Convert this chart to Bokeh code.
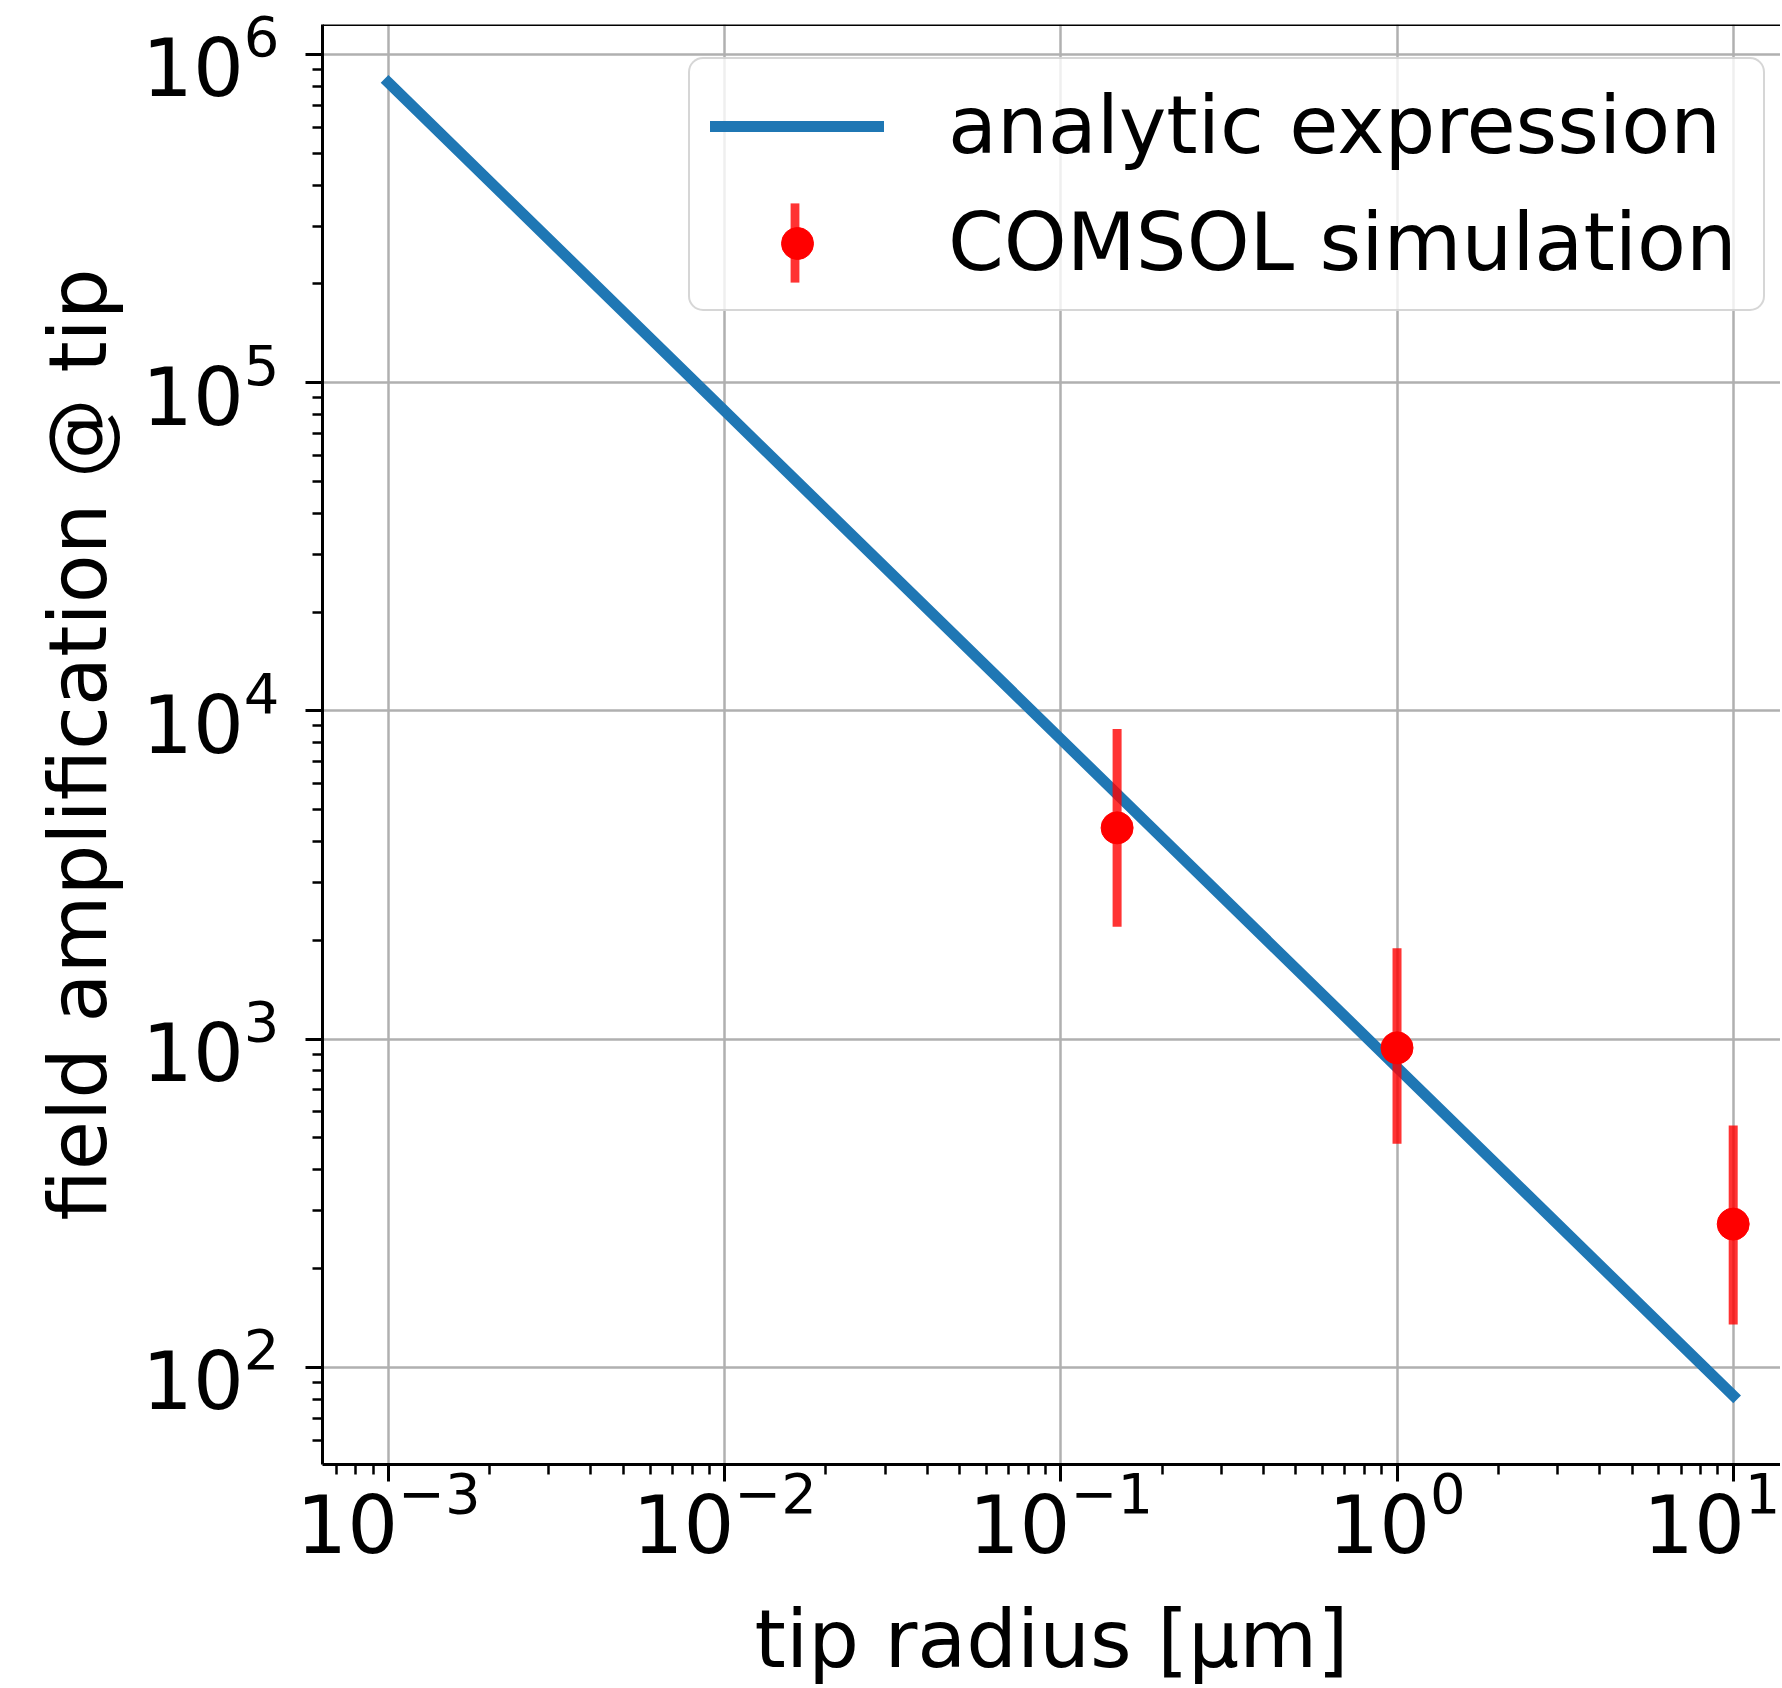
from bokeh.plotting import figure
from bokeh.models import Range1d, ColumnDataSource, Legend, LegendItem, Span
from bokeh.embed import file_html
from bokeh.resources import INLINE

# ---- data ----
analytic_radius = [1e-3, 1e-2, 1e-1, 1e0, 1e1]
analytic_amp = [8.2e5, 8.2e4, 8.2e3, 8.2e2, 82.0]

sim_radius = [0.147, 1.0, 10.0]
sim_amp = [4400.0, 940.0, 273.0]
sim_err_low = [2200.0, 480.0, 135.0]
sim_err_high = [8800.0, 1890.0, 545.0]

x_label = "tip radius [μm]"
y_label = "field amplification @ tip"
legend_labels = ["analytic expression", "COMSOL simulation"]

FONT = "DejaVu Sans"
FS = "80px"

p = figure(
    width=1780, height=1688,
    x_axis_type="log", y_axis_type="log",
    x_range=Range1d(10 ** -3.1963, 10 ** 1.1407),
    y_range=Range1d(10 ** 1.7036, 10 ** 6.0913),
    output_backend="svg", toolbar_location=None,
    min_border_left=322, min_border_right=0, min_border_top=24, min_border_bottom=222,
)
p.outline_line_color = None
p.background_fill_color = "white"
p.border_fill_color = "white"

line_r = p.line(analytic_radius, analytic_amp, line_color="#1f77b4", line_width=11,
                line_cap="square")

src = ColumnDataSource(dict(x=sim_radius, y=sim_amp, lo=sim_err_low, hi=sim_err_high))
# error bars
p.segment(x0="x", y0="lo", x1="x", y1="hi", source=src,
          line_color="red", line_alpha=0.8, line_width=9)
# legend-only sample of the error bar (vertical bar glyph, not drawn in the plot)
bar_proxy = p.vbar(x="x", bottom="lo", top="hi", width=0.01, source=src,
                   fill_color="red", fill_alpha=0.8, line_color=None, visible=False)
pts = p.scatter("x", "y", source=src, size=32, fill_color="red", line_color="red")

# top spine
p.add_layout(Span(location=p.y_range.end, dimension="width", line_color="black", line_width=3))

for ax in p.axis:
    ax.axis_line_color = "black"
    ax.axis_line_width = 3
    ax.major_tick_line_color = "black"
    ax.major_tick_line_width = 3
    ax.major_tick_in = 0
    ax.major_tick_out = 17
    ax.minor_tick_line_color = "black"
    ax.minor_tick_line_width = 2.5
    ax.minor_tick_in = 0
    ax.minor_tick_out = 10
    ax.major_label_text_font = FONT
    ax.major_label_text_font_size = FS
    ax.major_label_text_color = "black"
    ax.axis_label_text_font = FONT
    ax.axis_label_text_font_size = FS
    ax.axis_label_text_font_style = "normal"
    ax.axis_label_text_color = "black"

p.xaxis.axis_label = x_label
p.yaxis.axis_label = y_label
p.xaxis.major_label_standoff = -13
p.yaxis.major_label_standoff = 26
p.xaxis.axis_label_standoff = 37
p.yaxis.axis_label_standoff = 14

for g in (p.xgrid, p.ygrid):
    g.grid_line_color = "#b0b0b0"
    g.grid_line_width = 2.5

legend = Legend(
    items=[LegendItem(label=legend_labels[0], renderers=[line_r]),
           LegendItem(label=legend_labels[1], renderers=[pts])],
    location=(366, 1153),
    label_text_font=FONT, label_text_font_size=FS, label_text_color="black",
    glyph_width=174, glyph_height=80, label_standoff=64, label_width=795,
    padding=20, spacing=24, margin=0,
    border_line_color="#cccccc", border_line_width=2.5, border_line_alpha=0.8,
    background_fill_color="white", background_fill_alpha=0.8,
)
try:
    legend.border_radius = 15
except Exception:
    pass
p.add_layout(legend)

# vertical error-bar sample drawn over the legend's marker
bar_legend = Legend(
    items=[LegendItem(label="", renderers=[bar_proxy])],
    location=(466.5, 1172.5),
    label_text_font_size="1px", glyph_width=11, glyph_height=99,
    label_standoff=0, label_width=0, label_height=0,
    padding=0, spacing=0, margin=0,
    border_line_color=None, background_fill_alpha=0,
)
p.add_layout(bar_legend)

open("out.html", "w").write(file_html(p, INLINE))
